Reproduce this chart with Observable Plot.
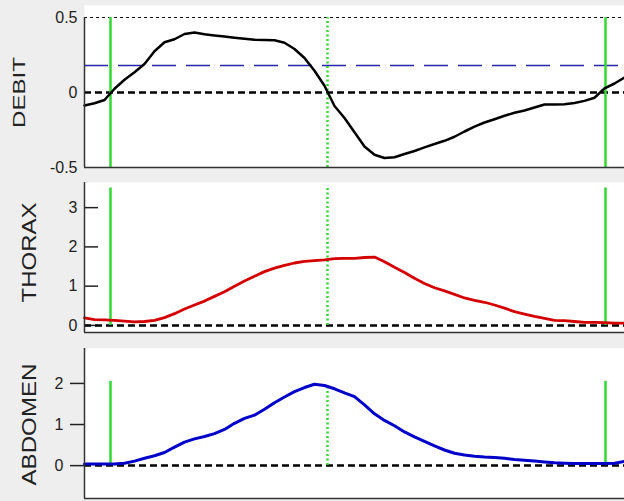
<!DOCTYPE html>
<html>
<head>
<meta charset="utf-8">
<script src="https://cdn.jsdelivr.net/npm/d3@7"></script>
<script src="https://cdn.jsdelivr.net/npm/@observablehq/plot@0.6"></script>
<style>
  html, body { margin: 0; padding: 0; background: #eeeeee; }
  #chart { width: 624px; height: 501px; background: #eeeeee; overflow: hidden; }
  #chart svg { display: block; }
</style>
</head>
<body>
<div id="chart"></div>
<script>
// time (s)
const time = [0.0,0.1,0.2,0.3,0.4,0.5,0.6,0.7,0.8,0.9,1.0,1.1,1.2,1.3,1.4,1.5,1.6,1.7,1.8,1.9,2.0,2.1,2.2,2.3,2.4,2.5,2.6,2.7,2.8,2.9,3.0,3.1,3.2,3.3,3.4,3.5,3.6,3.7,3.8,3.9,4.0,4.1,4.2,4.3,4.4,4.5,4.6,4.7,4.8,4.9,5.0,5.1,5.2,5.3,5.4];
const debit = [-0.087,-0.072,-0.05,0.025,0.085,0.135,0.19,0.275,0.335,0.355,0.39,0.40,0.388,0.38,0.373,0.365,0.358,0.352,0.35,0.348,0.332,0.29,0.23,0.145,0.045,-0.09,-0.17,-0.265,-0.36,-0.415,-0.437,-0.432,-0.41,-0.39,-0.366,-0.343,-0.322,-0.295,-0.26,-0.228,-0.2,-0.178,-0.155,-0.135,-0.12,-0.1,-0.08,-0.08,-0.078,-0.07,-0.056,-0.035,0.028,0.06,0.1];
const thorax = [0.19,0.15,0.14,0.13,0.11,0.09,0.1,0.13,0.2,0.3,0.42,0.52,0.62,0.74,0.86,1.0,1.13,1.25,1.37,1.46,1.53,1.59,1.63,1.65,1.67,1.7,1.71,1.71,1.73,1.74,1.62,1.48,1.35,1.2,1.07,0.96,0.88,0.79,0.7,0.64,0.59,0.52,0.44,0.35,0.29,0.23,0.18,0.13,0.12,0.1,0.08,0.08,0.07,0.06,0.06];
const abdomen = [0.04,0.04,0.04,0.04,0.06,0.11,0.18,0.24,0.32,0.45,0.57,0.65,0.71,0.78,0.88,1.03,1.15,1.23,1.37,1.53,1.67,1.8,1.9,1.98,1.95,1.87,1.77,1.68,1.48,1.26,1.1,0.97,0.82,0.7,0.59,0.48,0.38,0.3,0.26,0.23,0.21,0.2,0.18,0.15,0.13,0.11,0.09,0.07,0.06,0.05,0.05,0.05,0.05,0.06,0.1];

// cycle markers (s)
const cycleStarts = [0.26, 5.21];   // solid green
const cycleMid = [2.43];            // dotted green
const debitThreshold = [0.18];

// panel settings
const panelNames = ["DEBIT", "THORAX", "ABDOMEN"];
const debitTicks = [-0.5, 0, 0.5];
const thoraxTicks = [0, 1, 2, 3];
const abdomenTicks = [0, 1, 2];
const thoraxMarkTop = 3.5;
const abdomenMarkTop = 2.05;
const abdomenMidTop = 1.96;

const rows = time.map((t, i) => ({t, debit: debit[i], thorax: thorax[i], abdomen: abdomen[i]}));
const xDomain = [0, 5.4];
const green = "#33d933";
const font = "'Liberation Sans', Arial, sans-serif";

function base(opts) {
  return Object.assign({
    width: 624,
    marginLeft: 84,
    marginRight: 0,
    style: {background: "#eeeeee", fontFamily: font, fontSize: "16px", color: "#222", overflow: "visible"},
    x: {domain: xDomain, axis: null},
  }, opts);
}

// Panel 1: DEBIT
const p1 = Plot.plot(base({
  height: 175, marginTop: 5, marginBottom: 8,
  y: {domain: [-0.5, 0.58], axis: null},
  marks: [
    Plot.frame({fill: "white", stroke: null}),
    Plot.axisY(debitTicks, {tickSize: 0, tickPadding: 7, tickFormat: d => String(d), fontSize: 16, label: null}),
    Plot.ruleY([0.5], {stroke: "#111", strokeWidth: 1.2, strokeDasharray: "3,3"}),
    Plot.ruleY(debitThreshold, {stroke: "#2626a8", strokeWidth: 1.3, strokeDasharray: "24,10"}),
    Plot.ruleY([0], {stroke: "#000", strokeWidth: 2.5, strokeDasharray: "7,4"}),
    Plot.ruleX(cycleStarts, {y1: -0.5, y2: 0.5, stroke: green, strokeWidth: 2.5}),
    Plot.ruleX(cycleMid, {y1: -0.5, y2: 0.5, stroke: green, strokeWidth: 2.5, strokeDasharray: "2,2.5"}),
    Plot.line(rows, {x: "t", y: "debit", stroke: "#000", strokeWidth: 2.5}),
    Plot.ruleX([0], {y1: -0.5, y2: 0.5, stroke: "#333", strokeWidth: 1.5}),
    Plot.ruleY([-0.5], {stroke: "#333", strokeWidth: 1.5}),
    Plot.text([panelNames[0]], {frameAnchor: "left", dx: -65, dy: 6, rotate: -90, fontSize: 17, fill: "#222"})
  ]
}));

// Panel 2: THORAX
const thoraxDomain = [-0.18, 3.64];
const p2 = Plot.plot(base({
  height: 165, marginTop: 7, marginBottom: 8,
  y: {domain: thoraxDomain, axis: null},
  marks: [
    Plot.frame({fill: "white", stroke: null}),
    Plot.axisY(thoraxTicks, {tickSize: -14, tickPadding: 21, stroke: "#222", strokeWidth: 1.5, fontSize: 16, label: null}),
    Plot.ruleY([0], {stroke: "#000", strokeWidth: 2.5, strokeDasharray: "7,4"}),
    Plot.ruleX(cycleStarts, {y1: 0, y2: thoraxMarkTop, stroke: green, strokeWidth: 2.5}),
    Plot.ruleX(cycleMid, {y1: 0, y2: thoraxMarkTop, stroke: green, strokeWidth: 2.5, strokeDasharray: "2,2.5"}),
    Plot.line(rows, {x: "t", y: "thorax", stroke: "#d40000", strokeWidth: 2.8}),
    Plot.ruleX([0], {stroke: "#333", strokeWidth: 1.5}),
    Plot.ruleY([thoraxDomain[0]], {stroke: "#333", strokeWidth: 1.5}),
    Plot.text([panelNames[1]], {frameAnchor: "left", dx: -55, dy: -5, rotate: -90, fontSize: 21, fill: "#222"})
  ]
}));

// Panel 3: ABDOMEN
const abdomenDomain = [-0.8, 2.85];
const p3 = Plot.plot(base({
  height: 161, marginTop: 8, marginBottom: 3,
  y: {domain: abdomenDomain, axis: null},
  marks: [
    Plot.frame({fill: "white", stroke: null}),
    Plot.axisY(abdomenTicks, {tickSize: 14, tickPadding: 7, stroke: "#222", strokeWidth: 1.5, fontSize: 16, label: null}),
    Plot.ruleY([0], {stroke: "#000", strokeWidth: 2.5, strokeDasharray: "7,4"}),
    Plot.ruleX(cycleStarts, {y1: 0, y2: abdomenMarkTop, stroke: green, strokeWidth: 2.5}),
    Plot.ruleX(cycleMid, {y1: 0, y2: abdomenMidTop, stroke: green, strokeWidth: 2.5, strokeDasharray: "2,2.5"}),
    Plot.line(rows, {x: "t", y: "abdomen", stroke: "#0000c8", strokeWidth: 3}),
    Plot.ruleX([0], {stroke: "#333", strokeWidth: 1.5}),
    Plot.ruleY([abdomenDomain[0]], {stroke: "#333", strokeWidth: 1.5}),
    Plot.text([panelNames[2]], {frameAnchor: "left", dx: -55, dy: 1, rotate: -90, fontSize: 21, fill: "#222"})
  ]
}));

const chart = document.getElementById("chart");
chart.append(p1, p2, p3);

// stretch the panel titles to the reference's lengths, keeping them centred on their anchor
const titleLengths = {DEBIT: 71, THORAX: 100, ABDOMEN: 122};
d3.select(chart).selectAll("text").each(function() {
  const s = this.textContent.trim();
  if (titleLengths[s]) {
    const L = titleLengths[s];
    this.setAttribute("text-anchor", "start");
    this.setAttribute("textLength", L);
    this.setAttribute("lengthAdjust", "spacingAndGlyphs");
    this.setAttribute("x", -L / 2);
  }
});
</script>
</body>
</html>
